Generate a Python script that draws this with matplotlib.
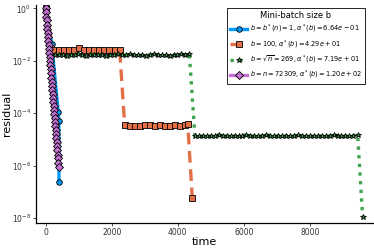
import matplotlib
matplotlib.use('Agg')
import matplotlib.pyplot as plt

# b = 1
t_b1 = [0, 180, 375, 395, 400]
r_b1 = [1.0, 4.5e-2, 1.1e-4, 5.0e-5, 2.3e-7]

# b = 100
t_b100 = [0, 210, 395, 547, 699, 851, 994, 1155, 1307, 1459, 1611, 1763, 1915, 2088, 2240,
          2390, 2540, 2690, 2850, 3000, 3150, 3300, 3460, 3610, 3760, 3910, 4060, 4210, 4300, 4440]
r_b100 = [1.0, 2.7e-2, 2.6e-2, 2.5e-2, 2.5e-2, 2.6e-2, 3.0e-2, 2.6e-2, 2.5e-2, 2.6e-2, 2.6e-2,
          2.5e-2, 2.6e-2, 2.6e-2, 2.5e-2,
          3.5e-5, 3.3e-5, 3.2e-5, 3.3e-5, 3.5e-5, 3.6e-5, 3.4e-5, 3.5e-5, 3.3e-5, 3.3e-5,
          3.5e-5, 3.4e-5, 3.5e-5, 3.9e-5, 5.8e-8]

# b = sqrt(n)
t_b269 = [0, 150, 270, 390, 510, 630, 750, 870, 990, 1110, 1230, 1350, 1470, 1590, 1710, 1830,
          1950, 2070, 2190, 2310, 2430, 2550, 2670, 2790, 2910, 3030, 3150, 3270, 3390, 3510,
          3630, 3750, 3870, 3990, 4110, 4230, 4350,
          4520, 4640, 4760, 4880, 5000, 5120, 5240, 5360, 5480, 5600, 5720, 5840, 5960, 6080,
          6200, 6320, 6440, 6560, 6680, 6800, 6920, 7040, 7160, 7280, 7400, 7520, 7640, 7760,
          7880, 8000, 8120, 8240, 8360, 8480, 8600, 8720, 8840, 8960, 9080, 9200, 9320, 9450,
          9600]
r_b269 = [1.0, 1.7e-2, 1.6e-2, 1.7e-2, 1.6e-2, 1.5e-2, 1.7e-2, 1.6e-2, 1.8e-2, 1.6e-2, 1.5e-2,
          1.7e-2, 1.6e-2, 1.6e-2, 1.7e-2, 1.5e-2, 1.6e-2, 1.7e-2, 1.8e-2, 1.6e-2, 1.7e-2,
          1.9e-2, 1.6e-2, 1.7e-2, 1.6e-2, 1.5e-2, 1.7e-2, 1.8e-2, 1.6e-2, 1.7e-2, 1.6e-2,
          1.5e-2, 1.7e-2, 1.6e-2, 1.8e-2, 1.7e-2, 1.8e-2,
          1.3e-5, 1.4e-5, 1.3e-5, 1.4e-5, 1.3e-5, 1.4e-5, 1.5e-5, 1.3e-5, 1.4e-5, 1.3e-5,
          1.4e-5, 1.3e-5, 1.4e-5, 1.5e-5, 1.3e-5, 1.4e-5, 1.3e-5, 1.4e-5, 1.5e-5, 1.4e-5,
          1.3e-5, 1.4e-5, 1.3e-5, 1.4e-5, 1.3e-5, 1.4e-5, 1.5e-5, 1.3e-5, 1.4e-5, 1.3e-5,
          1.4e-5, 1.3e-5, 1.4e-5, 1.3e-5, 1.4e-5, 1.5e-5, 1.4e-5, 1.3e-5, 1.4e-5, 1.3e-5,
          1.4e-5, 1.5e-5, 1.15e-8]

# b = n (full batch)
t_bn = [0, 10, 20, 30, 40, 50, 60, 70, 80, 90, 100, 110, 120, 130, 140, 150, 160, 170, 180, 190,
        200, 210, 220, 230, 240, 250, 260, 270, 280, 290, 300, 310, 320, 330, 340, 350, 360, 370,
        380, 390]
r_bn = [1.0, 7.1e-1, 4.9e-1, 3.5e-1, 2.4e-1, 1.7e-1, 1.2e-1, 8.3e-2, 5.8e-2, 4.1e-2, 2.8e-2,
        2.0e-2, 1.4e-2, 9.8e-3, 6.8e-3, 4.8e-3, 3.3e-3, 2.3e-3, 1.6e-3, 1.1e-3, 7.9e-4, 5.6e-4,
        3.9e-4, 2.8e-4, 1.9e-4, 1.3e-4, 9.3e-5, 6.6e-5, 4.6e-5, 3.2e-5, 2.2e-5, 1.6e-5, 1.1e-5,
        7.8e-6, 5.4e-6, 3.8e-6, 2.6e-6, 1.9e-6, 1.3e-6, 8.9e-7]

labels = [r"$b = b^*(n) = 1, \alpha^*(b) = 6.64e-01$",
          r"$b = 100, \alpha^*(b) = 4.29e+01$",
          r"$b = \sqrt{n} = 269, \alpha^*(b) = 7.19e+01$",
          r"$b = n = 72309, \alpha^*(b) = 1.20e+02$"]

fig = plt.figure(figsize=(3.74, 2.49), dpi=100)
ax = fig.add_axes([0.096, 0.104, 0.90, 0.876])

ax.plot(t_b1, r_b1, color='#009AFA', lw=2.4, marker='o', ms=4, mfc='#009AFA', mec='black',
        mew=0.6, label=labels[0])
ax.plot(t_b100, r_b100, color='#E36F47', lw=2.4, ls=(0, (3.5, 2)), marker='s', ms=4.5,
        mfc='#E36F47', mec='black', mew=0.6, label=labels[1])
ax.plot(t_b269, r_b269, color='#3EA44E', lw=2.4, ls=(0, (1, 1.6)), marker='*', ms=4,
        mfc='#3EA44E', mec='black', mew=0.6, label=labels[2])
ax.plot(t_bn, r_bn, color='#C371D2', lw=2.4, marker='D', ms=4, mfc='#C371D2', mec='black',
        mew=0.6, label=labels[3])

ax.set_yscale('log')
ax.set_xlim(-300, 9900)
ax.set_ylim(10 ** -8.19, 10 ** 0.13)
ax.set_xticks([0, 2000, 4000, 6000, 8000])
ax.set_yticks([1e0, 1e-2, 1e-4, 1e-6, 1e-8])
ax.minorticks_off()
ax.tick_params(labelsize=5.5, length=2, width=0.6, colors='#333333', pad=1.5)
for s in ['top', 'right']:
    ax.spines[s].set_visible(False)
for s in ['left', 'bottom']:
    ax.spines[s].set_linewidth(0.9)

ax.set_xlabel("time", fontsize=8, labelpad=0)
ax.set_ylabel("residual", fontsize=8, labelpad=0)

lgd = ax.legend(loc='upper right', bbox_to_anchor=(0.984, 0.98), bbox_transform=fig.transFigure,
                fontsize=4.8, title="Mini-batch size b", title_fontsize=6, fancybox=False,
                edgecolor='black', framealpha=1, handlelength=2.6, borderpad=0.4,
                labelspacing=0.45, handletextpad=0.4)
lgd.get_frame().set_linewidth(0.6)

fig.savefig('out.png', dpi=100)
